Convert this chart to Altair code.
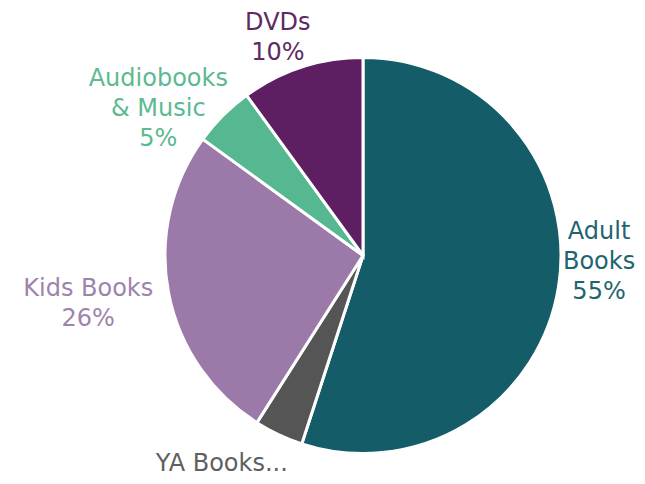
import altair as alt
import pandas as pd

categories = ["Adult Books", "YA Books", "Kids Books", "Audiobooks & Music", "DVDs"]
values = [55, 4, 26, 5, 10]
labels = ["Adult\nBooks\n55%", "YA Books...", "Kids Books\n26%", "Audiobooks\n& Music\n5%", "DVDs\n10%"]
slice_colors = ["#135C68", "#555555", "#9B7AAA", "#55B890", "#5D1E62"]
label_colors = ["#1F6570", "#606060", "#9C84AC", "#5CB990", "#5E2A64"]

df = pd.DataFrame({
    "category": categories,
    "value": values,
    "label": labels,
    "order": list(range(len(categories))),
})

CX, CY = 355, 247.5
R = 198

base = alt.Chart(df)

pie = base.mark_arc(outerRadius=R, stroke="white", strokeWidth=3).encode(
    theta=alt.Theta("value:Q", stack=True),
    color=alt.Color("category:N", scale=alt.Scale(domain=categories, range=slice_colors), legend=None),
    order=alt.Order("order:Q"),
    x=alt.value(CX),
    y=alt.value(CY),
)

lab_base = base.transform_window(
    cum="sum(value)", sort=[alt.SortField("order")]
).transform_calculate(mid="datum.cum - datum.value / 2")

offsets = {
    "Adult Books": (-1, -61),
    "YA Books": (-39, -9),
    "Kids Books": (-39, -11),
    "Audiobooks & Music": (-35, -7),
    "DVDs": (-11, -4),
}

layers = [pie]
for cat, col in zip(categories, label_colors):
    dx, dy = offsets[cat]
    layers.append(
        lab_base.transform_filter(alt.datum.category == cat)
        .mark_text(radius=240, dx=dx, dy=dy, fontSize=24, font="DejaVu Sans",
                   lineBreak="\n", lineHeight=30, align="center", baseline="middle")
        .encode(
            theta=alt.Theta("mid:Q", scale=alt.Scale(domain=[0, 100])),
            text="label:N",
            color=alt.value(col),
            x=alt.value(CX),
            y=alt.value(CY),
        )
    )

chart = alt.layer(*layers).properties(
    width=629, height=468, padding=0, autosize="none"
).configure_view(stroke=None)

chart.save("out.html", embed_options={"renderer": "svg", "actions": False})
